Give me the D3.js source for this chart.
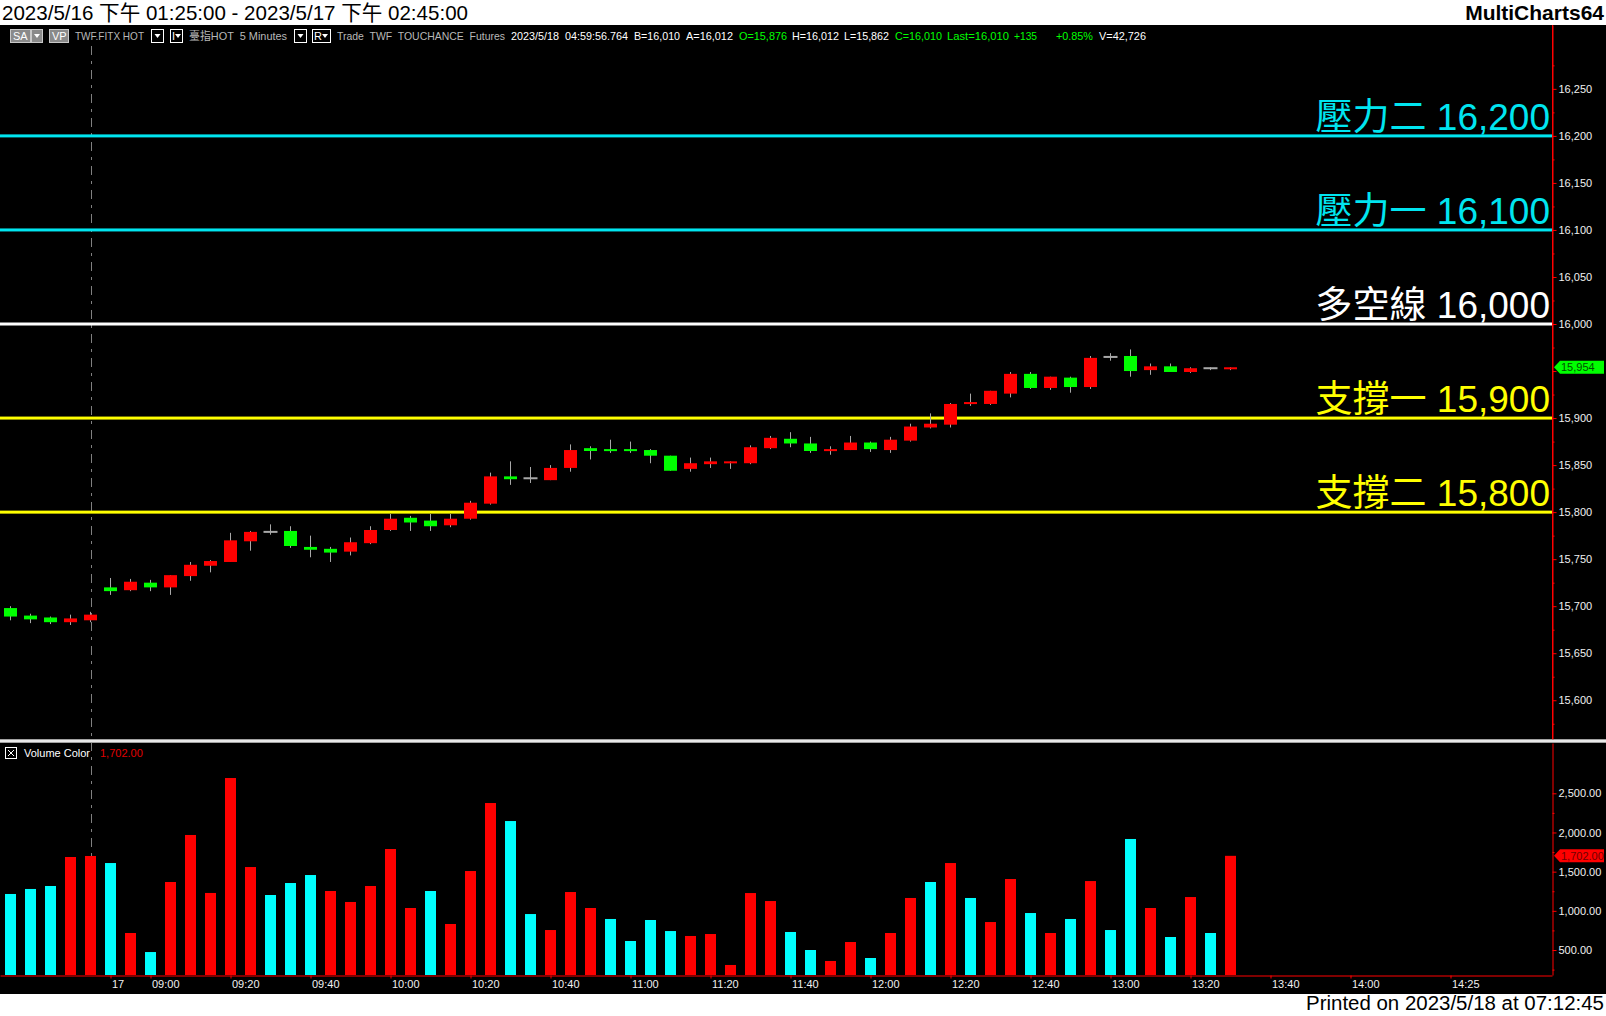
<!DOCTYPE html>
<html><head><meta charset="utf-8">
<script src="https://cdn.jsdelivr.net/npm/d3@7"></script>
<style>html,body{margin:0;padding:0;background:#fff;overflow:hidden}</style>
</head><body><svg id="c" width="1606" height="1016"></svg>
<script>
// ---------- DATA ----------
const categories = ["13:25","13:30","13:35","13:40","13:45",
 "08:50","08:55","09:00","09:05","09:10","09:15","09:20","09:25","09:30","09:35","09:40","09:45","09:50","09:55",
 "10:00","10:05","10:10","10:15","10:20","10:25","10:30","10:35","10:40","10:45","10:50","10:55",
 "11:00","11:05","11:10","11:15","11:20","11:25","11:30","11:35","11:40","11:45","11:50","11:55",
 "12:00","12:05","12:10","12:15","12:20","12:25","12:30","12:35","12:40","12:45","12:50","12:55",
 "13:00","13:05","13:10","13:15","13:20","13:25","13:30"];
const openVals  = [15698,15690,15688,15683,15685,15720,15717,15725,15720,15732,15743,15747,15769,15779,15780,15763,15761,15758,15767,15781,15794,15791,15786,15793,15809,15838,15836,15834,15847,15868,15867,15867,15866,15860,15846,15851,15852,15852,15868,15878,15873,15865,15866,15874,15866,15876,15890,15893,15915,15915,15926,15947,15932,15943,15933,15965,15966,15951,15955,15949,15953,15952];
const highVals  = [15700,15692,15689,15691,15694,15730,15729,15728,15733,15747,15749,15778,15780,15787,15785,15775,15763,15773,15785,15798,15796,15798,15798,15812,15842,15854,15848,15850,15872,15870,15877,15875,15867,15860,15858,15858,15854,15871,15881,15885,15880,15870,15881,15875,15880,15894,15905,15916,15926,15929,15949,15949,15944,15944,15966,15969,15973,15958,15958,15954,15954,15954];
const lowVals   = [15685,15682,15681,15680,15683,15712,15716,15716,15712,15727,15736,15747,15759,15776,15762,15752,15747,15754,15766,15780,15780,15780,15784,15792,15808,15829,15831,15834,15843,15856,15863,15863,15852,15844,15843,15847,15846,15851,15867,15869,15863,15861,15866,15864,15863,15875,15889,15890,15913,15914,15922,15931,15930,15927,15931,15961,15944,15946,15949,15948,15951,15951];
const closeVals = [15689,15686,15683,15687,15691,15716,15726,15720,15733,15744,15748,15770,15779,15779,15764,15760,15757,15768,15781,15793,15789,15785,15793,15810,15838,15835,15836,15847,15866,15865,15865,15865,15860,15844,15852,15854,15854,15869,15879,15873,15865,15867,15874,15867,15877,15891,15894,15915,15917,15929,15947,15932,15944,15933,15964,15965,15950,15955,15949,15953,15953,15954];
const volumeVals = [1215,1279,1317,1687,1700,1610,717,474,1368,1968,1228,2695,1559,1202,1355,1457,1253,1113,1317,1789,1036,1253,832,1508,2376,2146,959,755,1240,1036,896,615,883,742,679,704,309,1227,1125,730,500,360,602,398,717,1164,1368,1610,1164,857,1406,972,717,896,1380,755,1917,1036,666,1176,717,1702];
const volumeDir = ["d","d","d","u","u","d","u","d","u","u","u","u","u","d","d","d","u","u","u","u","u","d","u","u","u","d","d","u","u","u","d","d","d","d","u","u","u","u","u","d","d","u","u","d","u","u","d","u","d","u","u","d","u","d","u","d","d","u","d","u","d","u"];
const timeTickIndex  = [5,7,11,15,19,23,27,31,35,39,43,47,51,55,59,63,67,72];
const timeTickLabels = ["17","09:00","09:20","09:40","10:00","10:20","10:40","11:00","11:20","11:40","12:00","12:20","12:40","13:00","13:20","13:40","14:00","14:25"];
const priceTicks = [15600,15650,15700,15750,15800,15850,15900,15950,16000,16050,16100,16150,16200,16250];
const volumeTicks = [500,1000,1500,2000,2500];
const levelValues = [16200,16100,16000,15900,15800];
const levelNames  = ["壓力二","壓力一","多空線","支撐一","支撐二"];
const lastPrice = 15954;
const lastVolume = 1702;
const sessionBreakIndex = 4;
const slotCount = 77;

// ---------- STYLE ----------
const levelColor = {16200:"#00e5f0",16100:"#00e5f0",16000:"#ffffff",15900:"#ffff00",15800:"#ffff00"};
const UP="#ff0000", DOWN="#00ff00", WICK="#a8a8a8", VUP="#ff0000", VDOWN="#00ffff", AXIS="#ff0000";
const FONT = "'Liberation Sans', Arial, 'Noto Sans CJK TC', sans-serif";

const svg = d3.select("#c");
svg.append("rect").attr("width",1606).attr("height",1016).attr("fill","#fff");
svg.append("rect").attr("x",0).attr("y",25).attr("width",1606).attr("height",969).attr("fill","#000");

const plotR = 1552;
const x = d3.scaleLinear().domain([-0.525, slotCount+0.075]).range([0, plotR]);
const y = d3.scaleLinear().domain([15558.8, 16317.9]).range([739, 25]);
const yv = d3.scaleLinear().domain([181, 3142]).range([975, 743]);

// header
svg.append("text").attr("x",2).attr("y",20).attr("font-family",FONT).attr("font-size",21)
  .attr("textLength",466).attr("lengthAdjust","spacingAndGlyphs").attr("fill","#000")
  .text("2023/5/16 下午 01:25:00 - 2023/5/17 下午 02:45:00");
svg.append("text").attr("x",1604).attr("y",20).attr("text-anchor","end").attr("font-family",FONT)
  .attr("font-weight","bold").attr("font-size",21).attr("fill","#000").text("MultiCharts64");
svg.append("text").attr("x",1604).attr("y",1010).attr("text-anchor","end").attr("font-family",FONT)
  .attr("font-size",20).attr("textLength",298).attr("lengthAdjust","spacingAndGlyphs").attr("fill","#000")
  .text("Printed on 2023/5/18 at 07:12:45");

// session separator (dashed)
svg.append("line").attr("x1",Math.round(x(sessionBreakIndex))+0.5).attr("x2",Math.round(x(sessionBreakIndex))+0.5)
  .attr("y1",46).attr("y2",975).attr("stroke","#808080").attr("stroke-width",1).attr("stroke-dasharray","9,6,3,6");

// toolbar
const tb = svg.append("g").attr("font-family",FONT).attr("font-size",11);
function box(x0,w,fill,stroke){tb.append("rect").attr("x",x0+0.5).attr("y",29.5).attr("width",w).attr("height",13).attr("fill",fill).attr("stroke",stroke);}
function arrow(cx){tb.append("path").attr("d",`M${cx-3},34 L${cx+3},34 L${cx},38 Z`).attr("fill","#fff");}
box(10,20,"#8a8a8a","#c8c8c8"); tb.append("text").attr("x",13).attr("y",40).attr("fill","#fff").text("SA");
box(31,11,"#8a8a8a","#c8c8c8"); arrow(37);
box(49,19,"#8a8a8a","#c8c8c8"); tb.append("text").attr("x",52).attr("y",40).attr("fill","#fff").text("VP");
box(151,12,"#000","#fff"); arrow(157.5);
box(170,12,"#000","#fff"); tb.append("text").attr("x",172).attr("y",40).attr("fill","#fff").text("I"); arrow(178);
box(294,12,"#000","#fff"); arrow(300.5);
box(312,18,"#000","#fff"); tb.append("text").attr("x",314).attr("y",40).attr("fill","#fff").text("R"); arrow(325);
const tbItems = [
  [75,69,"TWF.FITX HOT","#b8b8b8"],
  [189,98,"臺指HOT  5 Minutes","#b8b8b8"],
  [337,168,"Trade  TWF  TOUCHANCE  Futures","#b8b8b8"],
  [511,117,"2023/5/18  04:59:56.764","#fff"],
  [634,46,"B=16,010","#fff"],[686,47,"A=16,012","#fff"],[739,48,"O=15,876","#00ff00"],
  [792,47,"H=16,012","#fff"],[844,45,"L=15,862","#fff"],[895,47,"C=16,010","#00ff00"],
  [947,62,"Last=16,010","#00ff00"],[1014,23,"+135","#00ff00"],[1056,37,"+0.85%","#00ff00"],[1099,47,"V=42,726","#fff"]];
tbItems.forEach(d=>tb.append("text").attr("x",d[0]).attr("y",40).attr("fill",d[3])
  .attr("textLength",d[1]).attr("lengthAdjust","spacingAndGlyphs").attr("xml:space","preserve").text(d[2]));

// level lines
const lv = svg.append("g");
levelValues.forEach((v,k)=>{
  lv.append("rect").attr("x",0).attr("y",y(v)-1.5).attr("width",plotR).attr("height",3).attr("fill",levelColor[v]);
  lv.append("text").attr("x",1550).attr("y",y(v)-6).attr("text-anchor","end").attr("font-family",FONT)
    .attr("font-size",37).attr("fill",levelColor[v]).text(levelNames[k]+" "+d3.format(",")(v));
});

// candles
const idx = d3.range(categories.length);
const cg = svg.append("g");
idx.forEach(i=>{
  const cx = x(i), o=openVals[i], c=closeVals[i], h=highVals[i], l=lowVals[i];
  cg.append("rect").attr("x",Math.floor(cx)).attr("y",y(h)).attr("width",1).attr("height",Math.max(1,y(l)-y(h))).attr("fill",WICK);
  if (o===c){
    cg.append("rect").attr("x",cx-7).attr("y",y(c)-1).attr("width",14).attr("height",2).attr("fill",WICK);
  } else {
    const top=y(Math.max(o,c)), bot=y(Math.min(o,c));
    cg.append("rect").attr("x",cx-6.5).attr("y",top).attr("width",13).attr("height",Math.max(2,bot-top)).attr("fill",c>o?UP:DOWN);
  }
});

// volume bars
const vg = svg.append("g");
vg.selectAll("rect").data(idx).join("rect")
  .attr("x",i=>x(i)-5.5).attr("width",11)
  .attr("y",i=>yv(volumeVals[i])).attr("height",i=>975-yv(volumeVals[i]))
  .attr("fill",i=>volumeDir[i]==="u"?VUP:VDOWN);

// pane separator
svg.append("rect").attr("x",0).attr("y",739).attr("width",1606).attr("height",4).attr("fill","#a0a0a0");
svg.append("rect").attr("x",0).attr("y",740).attr("width",1606).attr("height",2).attr("fill","#e8e8e8");

// volume legend
const vl = svg.append("g").attr("font-family",FONT).attr("font-size",11);
vl.append("rect").attr("x",5.5).attr("y",747.5).attr("width",11).attr("height",11).attr("fill","none").attr("stroke","#fff");
vl.append("path").attr("d","M8,750 L14,756 M14,750 L8,756").attr("stroke","#fff");
vl.append("text").attr("x",24).attr("y",757).attr("fill","#fff").text("Volume Color");
vl.append("text").attr("x",100).attr("y",757).attr("fill","#e00000").text(d3.format(",.2f")(lastVolume));

// axes
function styleAxis(g){
  g.select(".domain").attr("stroke",AXIS);
  g.selectAll(".tick line").attr("stroke",AXIS);
  g.selectAll(".tick text").attr("fill","#f0f0f0").attr("font-family",FONT).attr("font-size",11);
}
const minorP = priceTicks.map(v=>v-25).concat([16275]);
svg.append("g").attr("transform",`translate(${plotR+0.5},0)`)
  .call(d3.axisRight(y).tickValues(minorP).tickSize(2).tickSizeOuter(0).tickFormat(""))
  .call(styleAxis).select(".domain").remove();
const pa = svg.append("g").attr("transform",`translate(${plotR+0.5},0)`)
  .call(d3.axisRight(y).tickValues(priceTicks).tickSize(4).tickSizeOuter(0).tickPadding(2).tickFormat(d3.format(",")))
  .call(styleAxis);
// the label hidden under the last-price tag in the reference
pa.selectAll(".tick text").filter(d=>Math.abs(y(d)-y(lastPrice))<10).remove();
svg.append("line").attr("x1",plotR+0.5).attr("x2",plotR+0.5).attr("y1",25).attr("y2",739).attr("stroke",AXIS);

const minorV = [250,750,1250,1750,2250];
svg.append("g").attr("transform",`translate(${plotR+0.5},0)`)
  .call(d3.axisRight(yv).tickValues(minorV).tickSize(2).tickSizeOuter(0).tickFormat(""))
  .call(styleAxis).select(".domain").remove();
svg.append("g").attr("transform",`translate(${plotR+0.5},0)`)
  .call(d3.axisRight(yv).tickValues(volumeTicks).tickSize(4).tickSizeOuter(0).tickPadding(2).tickFormat(d3.format(",.2f")))
  .call(styleAxis);

const xa = svg.append("g").attr("transform","translate(0,975.5)")
  .call(d3.axisBottom(x).tickValues(timeTickIndex).tickSize(3).tickSizeOuter(0).tickPadding(2)
    .tickFormat((d,k)=>timeTickLabels[k]))
  .call(styleAxis);
xa.selectAll(".tick text").attr("text-anchor","start").attr("dx",1);

// last value tags
function tag(yy,fill,txt,tc){
  const g=svg.append("g");
  g.append("path").attr("d",`M${plotR+2},${yy} L${plotR+8},${yy-6.5} L1604,${yy-6.5} L1604,${yy+6.5} L${plotR+8},${yy+6.5} Z`).attr("fill",fill);
  g.append("text").attr("x",plotR+9).attr("y",yy+4).attr("font-family",FONT).attr("font-size",11).attr("fill",tc).text(txt);
}
tag(y(lastPrice),"#00ff00",d3.format(",")(lastPrice),"#005000");
tag(yv(lastVolume),"#ff0000",d3.format(",.2f")(lastVolume),"#700000");
</script></body></html>
